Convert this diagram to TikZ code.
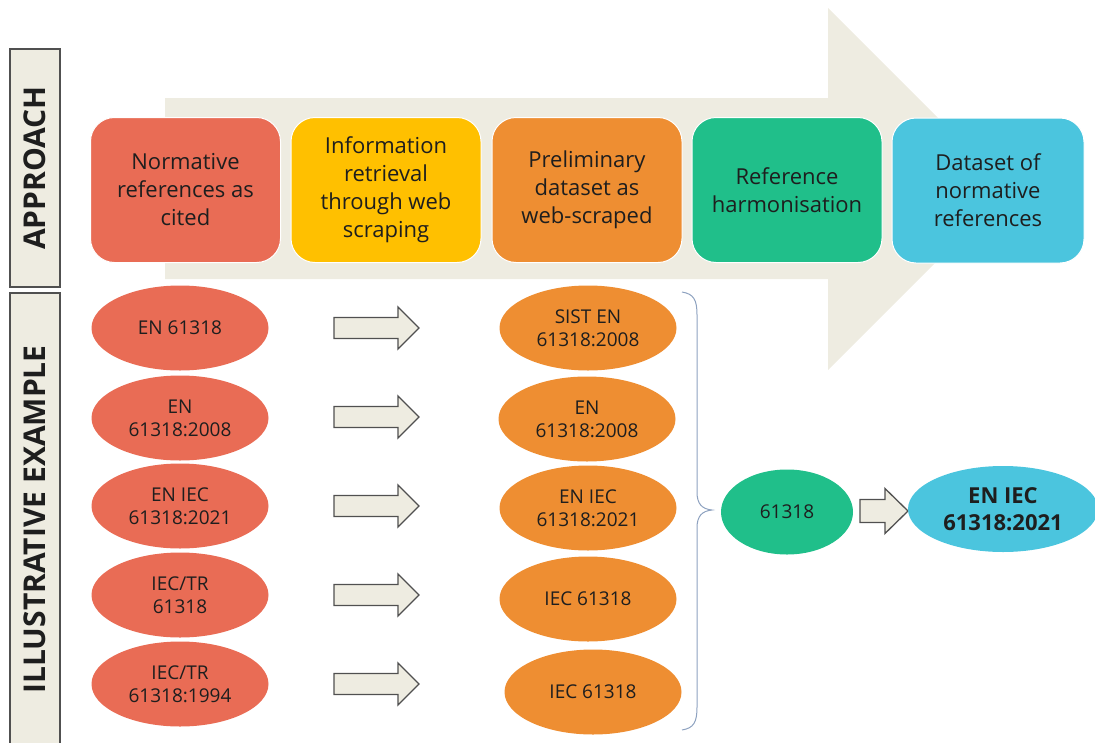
\documentclass[tikz,border=0pt]{standalone}
\usepackage{fontspec}
\setmainfont{Open Sans}
\usetikzlibrary{shapes.geometric}

\definecolor{beige}{HTML}{EEECE1}
\definecolor{cRed}{HTML}{E96C55}
\definecolor{cYellow}{HTML}{FFC000}
\definecolor{cOrange}{HTML}{EE8E32}
\definecolor{cGreen}{HTML}{20BF8A}
\definecolor{cBlue}{HTML}{4BC5DE}
\definecolor{ink}{HTML}{1E1E1E}
\definecolor{frame}{HTML}{505050}
\definecolor{bracecol}{HTML}{8EA2C0}

\tikzset{
  sidebox/.style={rectangle, draw=frame, line width=1.4pt, fill=beige, rotate=90,
    text=ink, font=\fontsize{30}{34}\selectfont\bfseries, inner sep=0pt},
  stage/.style={rectangle, rounded corners=24pt, draw=white, line width=1pt,
    minimum width=190pt, minimum height=145pt, align=center, text=ink,
    font=\fontsize{22}{28}\selectfont},
  oval/.style={ellipse, inner sep=0pt, minimum width=177pt, minimum height=85pt,
    align=center, text=ink, font=\fontsize{19}{23}\selectfont},
  arrowline/.style={draw=frame, line width=1.3pt, fill=beige, line join=miter},
  bracestyle/.style={draw=bracecol, line width=1pt},
  % block arrow: length, head length, half shaft width, half head width
  pics/blockarrow/.style n args={4}{code={
    \path[arrowline] (0,-#3) -- ({#1-#2},-#3) -- ({#1-#2},-#4) -- (#1,0)
      -- ({#1-#2},#4) -- ({#1-#2},#3) -- (0,#3) -- cycle;
  }},
}

\begin{document}
\begin{tikzpicture}[x=1pt,y=-1pt]
\clip (0,0) rectangle (1095,742);
\useasboundingbox (0,0) rectangle (1095,742);

% large background process arrow
\fill[beige] (165,98) -- (828,98) -- (828,8) -- (1009,189) -- (828,370)
  -- (828,279) -- (165,279) -- cycle;

% side labels
\node[sidebox, minimum width=238pt, minimum height=50pt] (approach) at (35,168) {APPROACH};
\node[sidebox, minimum width=453pt, minimum height=50pt] (example) at (35,519.5) {ILLUSTRATIVE EXAMPLE};

% process stages
\node[stage, fill=cRed]    (s1) at (185.5,190) {Normative\\references as\\cited};
\node[stage, fill=cYellow] (s2) at (386,190) {Information\\retrieval\\through web\\scraping};
\node[stage, fill=cOrange] (s3) at (587,190) {Preliminary\\dataset as\\web-scraped};
\node[stage, fill=cGreen]  (s4) at (787,190) {Reference\\harmonisation};
\node[stage, fill=cBlue, minimum width=192pt] (s5) at (988,190.5) {Dataset of\\normative\\references};

% references as cited
\node[oval, fill=cRed] (r1) at (180,328) {EN 61318};
\node[oval, fill=cRed] (r2) at (180,418) {EN\\61318:2008};
\node[oval, fill=cRed] (r3) at (180,506) {EN IEC\\61318:2021};
\node[oval, fill=cRed] (r4) at (180,595) {IEC/TR\\61318};
\node[oval, fill=cRed] (r5) at (180,684) {IEC/TR\\61318:1994};

% web-scraped records
\node[oval, fill=cOrange] (w1) at (588,328) {SIST EN\\61318:2008};
\node[oval, fill=cOrange] (w2) at (587,419) {EN\\61318:2008};
\node[oval, fill=cOrange] (w3) at (588,508) {EN IEC\\61318:2021};
\node[oval, fill=cOrange] (w4) at (588,599) {IEC 61318};
\node[oval, fill=cOrange] (w5) at (593,692) {IEC 61318};

% retrieval arrows
\foreach \yy in {328,417,506,595,684}
  \pic at (334,\yy) {blockarrow={85}{21}{10.5}{21}};

% grouping brace
\draw[bracestyle] (682,292) .. controls (694,294) and (697,300) .. (697,315)
  -- (697,492) .. controls (697,504) and (702,509) .. (712,510)
  .. controls (702,511) and (697,516) .. (697,528)
  -- (697,707) .. controls (697,722) and (694,728) .. (682,730);

% harmonised identifier and final reference
\node[oval, fill=cGreen, minimum width=132pt] (h) at (787,512) {61318};
\pic at (860,511) {blockarrow={48}{23}{11.5}{22.5}};
\node[oval, fill=cBlue, minimum width=190pt, minimum height=86pt,
  font=\fontsize{22}{27}\selectfont\bfseries] (final) at (1003,509) {EN IEC\\61318:2021};
\end{tikzpicture}
\end{document}
